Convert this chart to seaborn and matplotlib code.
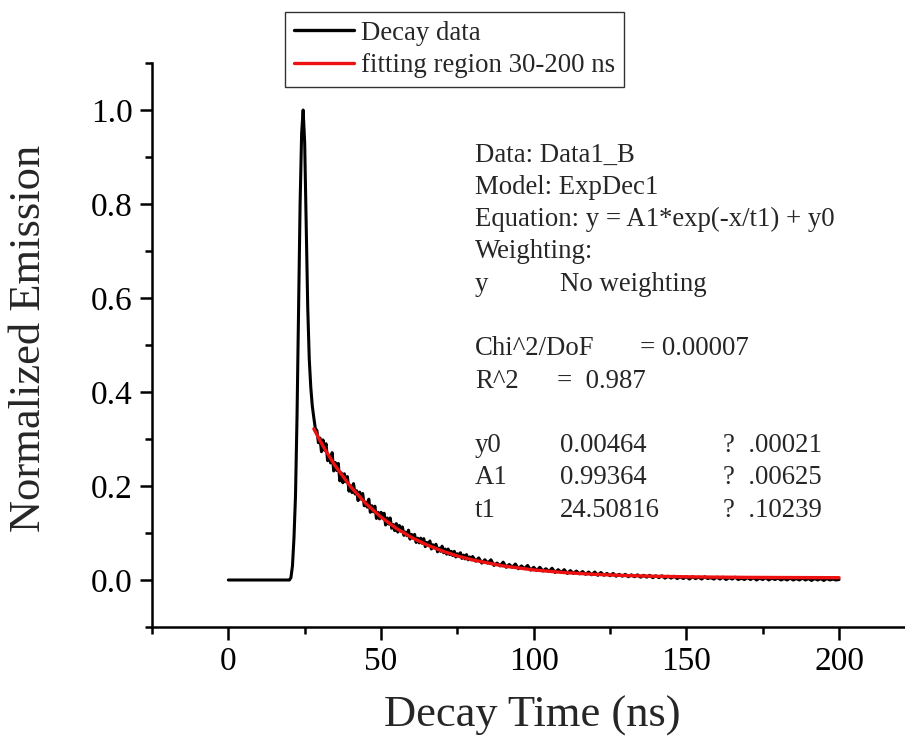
import matplotlib
matplotlib.use("Agg")
import matplotlib.pyplot as plt
import seaborn as sns
import pandas as pd
from matplotlib.ticker import MultipleLocator

# ---------------- data ----------------
# rise and peak
rise_time = [0, 10, 20, 20.5, 21, 21.5, 22, 22.5, 23, 23.5, 24, 24.5, 25, 25.5, 26, 26.5, 27, 27.5]
rise_value = [0.0, 0.0, 0.0, 0.005, 0.03, 0.09, 0.18, 0.35, 0.58, 0.80, 0.95, 1.0, 0.93, 0.76, 0.58,
              0.47, 0.41, 0.37]

# noisy decay, 28-80 ns (0.5 ns steps)
tail1_time = [28, 28.5, 29, 29.5, 30, 30.5, 31, 31.5, 32, 32.5, 33, 33.5, 34, 34.5, 35, 35.5, 36, 36.5,
              37, 37.5, 38, 38.5, 39, 39.5, 40, 40.5, 41, 41.5, 42, 42.5, 43, 43.5, 44, 44.5, 45, 45.5,
              46, 46.5, 47, 47.5, 48, 48.5, 49, 49.5, 50, 50.5, 51, 51.5, 52, 52.5, 53, 53.5, 54, 54.5,
              55, 55.5, 56, 56.5, 57, 57.5, 58, 58.5, 59, 59.5, 60, 60.5, 61, 61.5, 62, 62.5, 63, 63.5,
              64, 64.5, 65, 65.5, 66, 66.5, 67, 67.5, 68, 68.5, 69, 69.5, 70, 70.5, 71, 71.5, 72, 72.5,
              73, 73.5, 74, 74.5, 75, 75.5, 76, 76.5, 77, 77.5, 78, 78.5, 79, 79.5, 80]
tail1_value = [0.345, 0.322, 0.318, 0.292, 0.302, 0.273, 0.298, 0.276, 0.290, 0.254, 0.265, 0.249,
               0.271, 0.232, 0.250, 0.233, 0.248, 0.211, 0.228, 0.207, 0.226, 0.209, 0.220, 0.189,
               0.201, 0.186, 0.205, 0.183, 0.190, 0.169, 0.187, 0.172, 0.184, 0.158, 0.166, 0.155,
               0.172, 0.144, 0.158, 0.145, 0.157, 0.131, 0.144, 0.130, 0.144, 0.133, 0.142, 0.117,
               0.132, 0.119, 0.132, 0.110, 0.118, 0.105, 0.120, 0.102, 0.116, 0.104, 0.113, 0.095,
               0.102, 0.094, 0.106, 0.087, 0.097, 0.089, 0.097, 0.080, 0.089, 0.079, 0.089, 0.078,
               0.088, 0.071, 0.080, 0.074, 0.083, 0.066, 0.075, 0.068, 0.076, 0.060, 0.068, 0.061,
               0.072, 0.058, 0.066, 0.055, 0.066, 0.054, 0.061, 0.052, 0.061, 0.049, 0.056, 0.050,
               0.058, 0.046, 0.053, 0.045, 0.054, 0.043, 0.049, 0.043, 0.050]

# noisy decay, 81-200 ns (1 ns steps)
tail2_time = [81, 82, 83, 84, 85, 86, 87, 88, 89, 90, 91, 92, 93, 94, 95, 96, 97, 98, 99, 100,
              101, 102, 103, 104, 105, 106, 107, 108, 109, 110, 111, 112, 113, 114, 115, 116, 117, 118, 119, 120,
              121, 122, 123, 124, 125, 126, 127, 128, 129, 130, 131, 132, 133, 134, 135, 136, 137, 138, 139, 140,
              141, 142, 143, 144, 145, 146, 147, 148, 149, 150, 151, 152, 153, 154, 155, 156, 157, 158, 159, 160,
              161, 162, 163, 164, 165, 166, 167, 168, 169, 170, 171, 172, 173, 174, 175, 176, 177, 178, 179, 180,
              181, 182, 183, 184, 185, 186, 187, 188, 189, 190, 191, 192, 193, 194, 195, 196, 197, 198, 199, 200]
tail2_value = [0.040, 0.047, 0.036, 0.043, 0.036, 0.043, 0.031, 0.036, 0.030, 0.038,
               0.027, 0.033, 0.027, 0.034, 0.024, 0.030, 0.024, 0.031, 0.021, 0.027,
               0.020, 0.027, 0.019, 0.024, 0.018, 0.025, 0.016, 0.022, 0.016, 0.022,
               0.014, 0.020, 0.014, 0.019, 0.013, 0.018, 0.012, 0.017, 0.011, 0.017,
               0.010, 0.016, 0.010, 0.014, 0.009, 0.014, 0.008, 0.012, 0.008, 0.012,
               0.007, 0.011, 0.007, 0.011, 0.006, 0.010, 0.006, 0.010, 0.005, 0.009,
               0.005, 0.009, 0.004, 0.008, 0.004, 0.008, 0.003, 0.007, 0.003, 0.007,
               0.002, 0.007, 0.003, 0.006, 0.002, 0.007, 0.003, 0.005, 0.002, 0.006,
               0.002, 0.006, 0.001, 0.005, 0.002, 0.006, 0.001, 0.004, 0.001, 0.005,
               0.001, 0.005, 0.000, 0.004, 0.001, 0.005, 0.000, 0.004, 0.001, 0.004,
               0.000, 0.003, 0.000, 0.004, 0.000, 0.003, 0.000, 0.004, 0.000, 0.003,
               -0.001, 0.003, 0.000, 0.003, -0.001, 0.003, 0.000, 0.002, 0.000, 0.001]

# red fitted curve (ExpDec1 fit shown in the chart)
fit_time = [28, 30, 32, 35, 40, 45, 50, 55, 60, 65, 70, 75, 80, 90, 100, 110, 120, 130, 140, 150,
            160, 170, 180, 190, 200]
fit_value = [0.3216, 0.2968, 0.2739, 0.2429, 0.1989, 0.1630, 0.1338, 0.1099, 0.0905, 0.0747, 0.0618,
             0.0512, 0.0426, 0.0299, 0.0214, 0.0158, 0.0120, 0.0095, 0.0079, 0.0068, 0.0061, 0.0056,
             0.0053, 0.0051, 0.0049]

x_ticks = [0, 50, 100, 150, 200]
y_ticks = [0.0, 0.2, 0.4, 0.6, 0.8, 1.0]

info_lines = [
    ("Data: Data1_B", None, None),
    ("Model: ExpDec1", None, None),
    ("Equation: y = A1*exp(-x/t1) + y0", None, None),
    ("Weighting:", None, None),
    ("y", "No weighting", None),
    ("", None, None),
    ("Chi^2/DoF", "= 0.00007", None),
    ("R^2", "=  0.987", None),
    ("", None, None),
    ("y0", "0.00464", "?  .00021"),
    ("A1", "0.99364", "?  .00625"),
    ("t1", "24.50816", "?  .10239"),
]

# ---------------- style ----------------
sns.set_theme(style="ticks")
plt.rcParams["font.family"] = ["Liberation Serif", "DejaVu Serif"]

W, H = 905, 747
fig = plt.figure(figsize=(W / 100, H / 100), dpi=100)
ax = fig.add_axes([152 / W, 1 - 627 / H, (W - 152) / W, (627 - 63) / H])

df_decay = pd.DataFrame({"t": rise_time + tail1_time + tail2_time,
                         "v": rise_value + tail1_value + tail2_value})
df_fit = pd.DataFrame({"t": fit_time, "v": fit_value})

sns.lineplot(data=df_decay, x="t", y="v", ax=ax, color="black", linewidth=2.2,
             label="Decay data", sort=False, estimator=None)
sns.lineplot(data=df_fit, x="t", y="v", ax=ax, color="#ee1111", linewidth=2.4,
             label="fitting region 30-200 ns", sort=False, estimator=None)

ax.set_xlim(-25, 221.6)
ax.set_ylim(-0.1, 1.1)
ax.set_xticks(x_ticks)
ax.set_xticklabels([str(v) for v in x_ticks])
ax.set_yticks(y_ticks)
ax.set_yticklabels([f"{v:.1f}" for v in y_ticks])
ax.xaxis.set_minor_locator(MultipleLocator(25))
ax.yaxis.set_minor_locator(MultipleLocator(0.1))

for s in ["top", "right"]:
    ax.spines[s].set_visible(False)
for s in ["left", "bottom"]:
    ax.spines[s].set_linewidth(1.8)
    ax.spines[s].set_color("black")

ax.tick_params(axis="both", which="major", direction="out", length=9, width=1.8,
               labelsize=24, colors="black")
ax.tick_params(axis="both", which="minor", direction="out", length=5, width=1.8, colors="black")
ax.tick_params(axis="x", which="major", pad=5)
ax.tick_params(axis="y", which="major", pad=5)

ax.set_xlabel("Decay Time (ns)", fontsize=32)
ax.set_ylabel("Normalized Emission", fontsize=32)
ax.xaxis.set_label_coords((532 - 152) / (W - 152), -(716 - 627) / (627 - 63))
ax.yaxis.set_label_coords(-(152 - 29) / (W - 152), (627 - 338) / (627 - 63))
ax.xaxis.label.set_va("center")
ax.yaxis.label.set_va("center")

leg = ax.legend(loc="upper left", bbox_to_anchor=(285 / W, 1 - 12 / H),
                bbox_transform=fig.transFigure, fontsize=19.3, frameon=True, fancybox=False,
                handlelength=2.25, handletextpad=0.28, borderpad=0.32, labelspacing=0.28,
                borderaxespad=0)
leg.get_frame().set_edgecolor("black")
leg.get_frame().set_linewidth(1.0)
for line in leg.get_lines():
    line.set_linewidth(2.4)

# info text block
y0 = 155
dy = 32.3
for i, (a, b, c) in enumerate(info_lines):
    yy = 1 - (y0 + i * dy) / H
    if a:
        fig.text(475 / W, yy, a, fontsize=19.3, va="center", ha="left")
    if b:
        xb = 640 if a.startswith("Chi") else (557 if a.startswith("R^") else 560)
        fig.text(xb / W, yy, b, fontsize=19.3, va="center", ha="left")
    if c:
        fig.text(723 / W, yy, c, fontsize=19.3, va="center", ha="left")

fig.savefig("out.png", dpi=100)
